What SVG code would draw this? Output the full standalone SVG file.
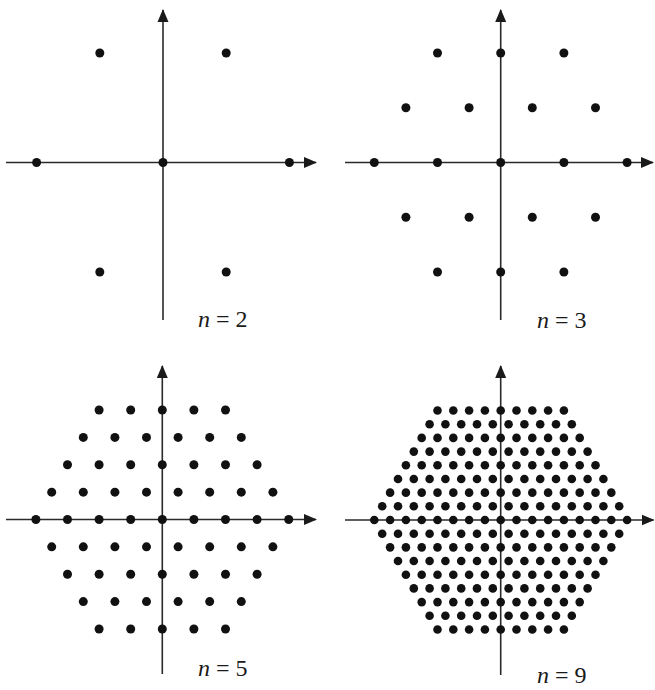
<svg xmlns="http://www.w3.org/2000/svg" width="655" height="690" viewBox="0 0 655 690">
<style>
.axis{stroke:#2a2a2a;stroke-width:1.6;fill:none}
.lbl{font-size:24px;fill:#1a1a1a}
.it{font-style:italic}
</style>
<defs>
<marker id="arr" markerUnits="userSpaceOnUse" markerWidth="14" markerHeight="12" viewBox="0 0 14 12" refX="12" refY="6" orient="auto"><path d="M0,0.5L13,6L0,11.5z" fill="#1a1a1a"/></marker>
<g id="t_e4"><circle r="4.5"/><circle cx="31.6" r="4.5"/><circle cx="-31.6" r="4.5"/><circle cx="63.2" r="4.5"/><circle cx="-63.2" r="4.5"/></g>
<g id="t_e2"><use href="#t_e4"/><circle cx="94.8" r="4.5"/><circle cx="-94.8" r="4.5"/></g>
<g id="t_e0"><use href="#t_e2"/><circle cx="126.4" r="4.5"/><circle cx="-126.4" r="4.5"/></g>
<g id="t_o3"><circle cx="15.8" r="4.5"/><circle cx="-15.8" r="4.5"/><circle cx="47.4" r="4.5"/><circle cx="-47.4" r="4.5"/><circle cx="79" r="4.5"/><circle cx="-79" r="4.5"/></g>
<g id="t_o1"><use href="#t_o3"/><circle cx="110.6" r="4.5"/><circle cx="-110.6" r="4.5"/></g>
<g id="q_e8"><circle r="4.3"/><circle cx="15.8" r="4.3"/><circle cx="-15.8" r="4.3"/><circle cx="31.6" r="4.3"/><circle cx="-31.6" r="4.3"/><circle cx="47.4" r="4.3"/><circle cx="-47.4" r="4.3"/><circle cx="63.2" r="4.3"/><circle cx="-63.2" r="4.3"/></g>
<g id="q_e6"><use href="#q_e8"/><circle cx="79" r="4.3"/><circle cx="-79" r="4.3"/></g>
<g id="q_e4"><use href="#q_e6"/><circle cx="94.8" r="4.3"/><circle cx="-94.8" r="4.3"/></g>
<g id="q_e2"><use href="#q_e4"/><circle cx="110.6" r="4.3"/><circle cx="-110.6" r="4.3"/></g>
<g id="q_e0"><use href="#q_e2"/><circle cx="126.4" r="4.3"/><circle cx="-126.4" r="4.3"/></g>
<g id="q_o7"><circle cx="7.9" r="4.3"/><circle cx="-7.9" r="4.3"/><circle cx="23.7" r="4.3"/><circle cx="-23.7" r="4.3"/><circle cx="39.5" r="4.3"/><circle cx="-39.5" r="4.3"/><circle cx="55.3" r="4.3"/><circle cx="-55.3" r="4.3"/><circle cx="71.1" r="4.3"/><circle cx="-71.1" r="4.3"/></g>
<g id="q_o5"><use href="#q_o7"/><circle cx="86.9" r="4.3"/><circle cx="-86.9" r="4.3"/></g>
<g id="q_o3"><use href="#q_o5"/><circle cx="102.7" r="4.3"/><circle cx="-102.7" r="4.3"/></g>
<g id="q_o1"><use href="#q_o3"/><circle cx="118.5" r="4.3"/><circle cx="-118.5" r="4.3"/></g>
</defs>
<rect width="655" height="690" fill="#ffffff"/>

<g id="axes" class="axis">
<line x1="6" y1="162.5" x2="316" y2="162.5" marker-end="url(#arr)"/>
<line x1="163" y1="320" x2="163" y2="10" marker-end="url(#arr)"/>
<line x1="345" y1="162.5" x2="653" y2="162.5" marker-end="url(#arr)"/>
<line x1="500.7" y1="320" x2="500.7" y2="10" marker-end="url(#arr)"/>
<line x1="6" y1="519.5" x2="316" y2="519.5" marker-end="url(#arr)"/>
<line x1="162.3" y1="674" x2="162.3" y2="366" marker-end="url(#arr)"/>
<line x1="345" y1="520" x2="653.5" y2="520" marker-end="url(#arr)"/>
<line x1="500.7" y1="675" x2="500.7" y2="366" marker-end="url(#arr)"/>
</g>

<g id="panel-n2">
<g id="dots-n2" fill="#111" transform="translate(163,162.5)">
<circle r="4.5"/><circle cx="-126.4" r="4.5"/><circle cx="126.4" r="4.5"/>
<circle cx="-63.2" cy="-109.46" r="4.5"/><circle cx="63.2" cy="-109.46" r="4.5"/>
<circle cx="-63.2" cy="109.46" r="4.5"/><circle cx="63.2" cy="109.46" r="4.5"/>
</g>
<text class="lbl" font-family="Liberation Serif, Times New Roman, serif" x="198" y="327"><tspan class="it">n</tspan><tspan dx="6">=</tspan><tspan dx="6">2</tspan></text>
</g>

<g id="panel-n3">
<g id="dots-n3" fill="#111" transform="translate(500.7,162.5)">
<circle r="4.5"/><circle cx="-63.2" r="4.5"/><circle cx="63.2" r="4.5"/><circle cx="-126.4" r="4.5"/><circle cx="126.4" r="4.5"/>
<circle cx="-31.6" cy="-54.73" r="4.5"/><circle cx="31.6" cy="-54.73" r="4.5"/><circle cx="-94.8" cy="-54.73" r="4.5"/><circle cx="94.8" cy="-54.73" r="4.5"/>
<circle cx="-31.6" cy="54.73" r="4.5"/><circle cx="31.6" cy="54.73" r="4.5"/><circle cx="-94.8" cy="54.73" r="4.5"/><circle cx="94.8" cy="54.73" r="4.5"/>
<circle cy="-109.46" r="4.5"/><circle cx="-63.2" cy="-109.46" r="4.5"/><circle cx="63.2" cy="-109.46" r="4.5"/>
<circle cy="109.46" r="4.5"/><circle cx="-63.2" cy="109.46" r="4.5"/><circle cx="63.2" cy="109.46" r="4.5"/>
</g>
<text class="lbl" font-family="Liberation Serif, Times New Roman, serif" x="537" y="328"><tspan class="it">n</tspan><tspan dx="6">=</tspan><tspan dx="6">3</tspan></text>
</g>

<g id="panel-n5">
<g id="dots-n5" fill="#111" transform="translate(162.3,519.5)">
<use href="#t_e0"/>
<use href="#t_o1" y="-27.366"/><use href="#t_o1" y="27.366"/>
<use href="#t_e2" y="-54.732"/><use href="#t_e2" y="54.732"/>
<use href="#t_o3" y="-82.098"/><use href="#t_o3" y="82.098"/>
<use href="#t_e4" y="-109.464"/><use href="#t_e4" y="109.464"/>
</g>
<text class="lbl" font-family="Liberation Serif, Times New Roman, serif" x="198" y="676"><tspan class="it">n</tspan><tspan dx="6">=</tspan><tspan dx="6">5</tspan></text>
</g>

<g id="panel-n9">
<g id="dots-n9" fill="#111" transform="translate(500.7,520)">
<use href="#q_e0"/>
<use href="#q_o1" y="-13.683"/><use href="#q_o1" y="13.683"/>
<use href="#q_e2" y="-27.366"/><use href="#q_e2" y="27.366"/>
<use href="#q_o3" y="-41.049"/><use href="#q_o3" y="41.049"/>
<use href="#q_e4" y="-54.732"/><use href="#q_e4" y="54.732"/>
<use href="#q_o5" y="-68.415"/><use href="#q_o5" y="68.415"/>
<use href="#q_e6" y="-82.098"/><use href="#q_e6" y="82.098"/>
<use href="#q_o7" y="-95.781"/><use href="#q_o7" y="95.781"/>
<use href="#q_e8" y="-109.464"/><use href="#q_e8" y="109.464"/>
</g>
<text class="lbl" font-family="Liberation Serif, Times New Roman, serif" x="537" y="683"><tspan class="it">n</tspan><tspan dx="6">=</tspan><tspan dx="6">9</tspan></text>
</g>
</svg>
